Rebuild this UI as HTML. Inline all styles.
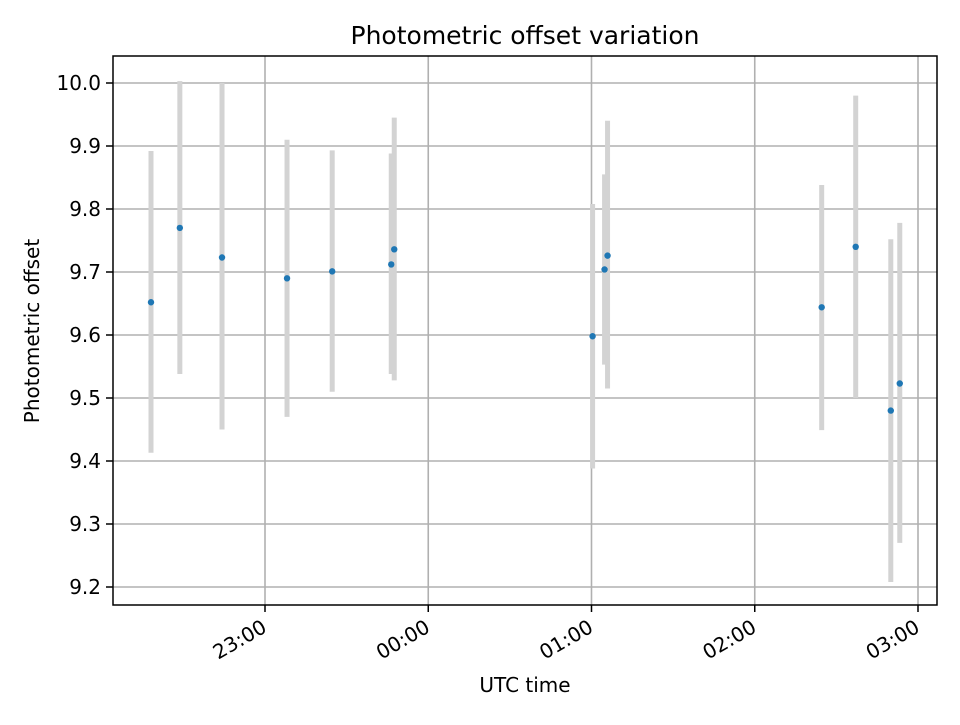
<!DOCTYPE html>
<html><head><meta charset="utf-8"><style>
body{margin:0;background:#fff}
svg text{font-family:"DejaVu Sans","Liberation Sans",sans-serif}
</style></head><body>
<svg id="chart" width="960" height="720" xmlns="http://www.w3.org/2000/svg">
<rect width="960" height="720" fill="#fff"/>
<g id="grid"></g>
<g id="errs"></g>
<g id="pts"></g>
<rect x="113" y="56" width="824" height="549" fill="none" stroke="#000" stroke-width="1.5"/>
<g id="ticks"></g>
<text x="525" y="44" text-anchor="middle" style="font-size:25px">Photometric offset variation</text>
<text x="525" y="692" text-anchor="middle" style="font-size:20px">UTC time</text>
<text transform="translate(39,331) rotate(-90)" text-anchor="middle" style="font-size:20px">Photometric offset</text>
</svg>
<script>
// minutes since 22:00
const times=[18.1,28.7,44.2,68.1,84.7,106.4,107.5,180.4,184.8,185.9,264.6,277.1,290,293.3];
const values=[9.652,9.770,9.723,9.690,9.701,9.712,9.736,9.598,9.704,9.726,9.644,9.740,9.480,9.523];
const errLow=[9.413,9.538,9.45,9.47,9.51,9.538,9.528,9.388,9.553,9.515,9.449,9.50,9.208,9.27];
const errHigh=[9.892,10.003,10.0,9.91,9.893,9.888,9.945,9.808,9.855,9.94,9.838,9.98,9.752,9.778];
const yTicks=[9.2,9.3,9.4,9.5,9.6,9.7,9.8,9.9,10.0];
const xTicks=[60,120,180,240,300];
const xTickLabels=["23:00","00:00","01:00","02:00","03:00"];
const NS="http://www.w3.org/2000/svg";
const X=m=>265+(m-60)*163.25/60;
const Y=v=>83+(10.0-v)*630;
function mk(tag,attrs,parent){const e=document.createElementNS(NS,tag);for(const k in attrs)e.setAttribute(k,attrs[k]);parent.appendChild(e);return e;}
const grid=document.getElementById('grid'),ticks=document.getElementById('ticks'),errs=document.getElementById('errs'),pts=document.getElementById('pts');
yTicks.forEach(v=>{
 const y=Y(v);
 const g=mk('line',{x1:113,x2:937,y1:y,y2:y,stroke:'#b0b0b0','stroke-width':1.6},grid);
 
 const t=mk('line',{x1:106,x2:113,y1:y,y2:y,stroke:'#000','stroke-width':1.5},ticks);
 
 const l=mk('text',{x:101,y:y+7,'text-anchor':'end',style:'font-size:20px'},ticks);
 
 l.textContent=v.toFixed(1);
});
xTicks.forEach((m,i)=>{
 const x=X(m);
 const g=mk('line',{x1:x,x2:x,y1:56,y2:605,stroke:'#b0b0b0','stroke-width':1.6},grid);
 
 const t=mk('line',{x1:x,x2:x,y1:605,y2:612,stroke:'#000','stroke-width':1.5},ticks);
 
 const l=mk('text',{x:0,y:0,'text-anchor':'end',style:'font-size:20px',transform:`translate(${x+3},${631}) rotate(-30)`},ticks);
 
 l.textContent=xTickLabels[i];
});
times.forEach((m,i)=>{
 const x=X(m);
 const e=mk('line',{x1:x,x2:x,y1:Y(errHigh[i]),y2:Y(errLow[i]),stroke:'#d3d3d3','stroke-width':5},errs);
 
});
times.forEach((m,i)=>{
 const c=mk('circle',{cx:X(m),cy:Y(values[i]),r:3.2,fill:'#1f77b4'},pts);
 
});
</script>
</body></html>
